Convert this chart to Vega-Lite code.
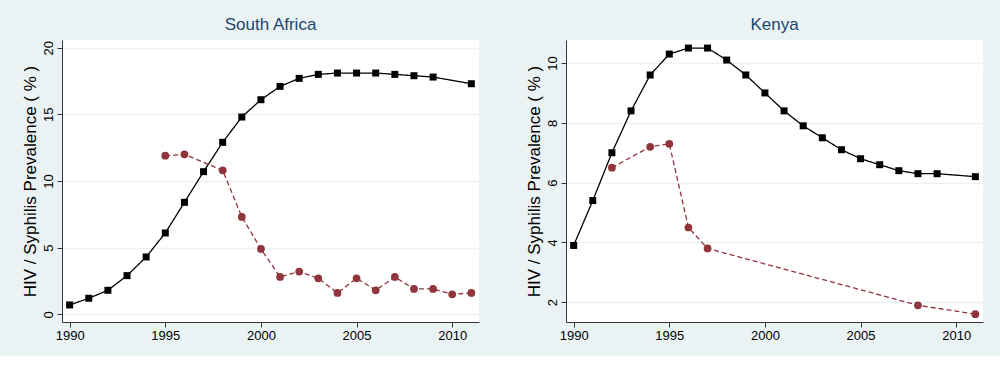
{
  "$schema": "https://vega.github.io/schema/vega-lite/v6.json",
  "background": "#eaf2f3",
  "padding": {"left": 21, "top": 16, "right": 20, "bottom": 14},
  "spacing": 46,
  "data": {
    "values": [
      {"country": "South Africa", "series": "HIV", "year": 1990, "value": 0.7},
      {"country": "South Africa", "series": "HIV", "year": 1991, "value": 1.2},
      {"country": "South Africa", "series": "HIV", "year": 1992, "value": 1.8},
      {"country": "South Africa", "series": "HIV", "year": 1993, "value": 2.9},
      {"country": "South Africa", "series": "HIV", "year": 1994, "value": 4.3},
      {"country": "South Africa", "series": "HIV", "year": 1995, "value": 6.1},
      {"country": "South Africa", "series": "HIV", "year": 1996, "value": 8.4},
      {"country": "South Africa", "series": "HIV", "year": 1997, "value": 10.7},
      {"country": "South Africa", "series": "HIV", "year": 1998, "value": 12.9},
      {"country": "South Africa", "series": "HIV", "year": 1999, "value": 14.8},
      {"country": "South Africa", "series": "HIV", "year": 2000, "value": 16.1},
      {"country": "South Africa", "series": "HIV", "year": 2001, "value": 17.1},
      {"country": "South Africa", "series": "HIV", "year": 2002, "value": 17.7},
      {"country": "South Africa", "series": "HIV", "year": 2003, "value": 18.0},
      {"country": "South Africa", "series": "HIV", "year": 2004, "value": 18.1},
      {"country": "South Africa", "series": "HIV", "year": 2005, "value": 18.1},
      {"country": "South Africa", "series": "HIV", "year": 2006, "value": 18.1},
      {"country": "South Africa", "series": "HIV", "year": 2007, "value": 18.0},
      {"country": "South Africa", "series": "HIV", "year": 2008, "value": 17.9},
      {"country": "South Africa", "series": "HIV", "year": 2009, "value": 17.8},
      {"country": "South Africa", "series": "HIV", "year": 2011, "value": 17.3},
      {"country": "South Africa", "series": "Syphilis", "year": 1995, "value": 11.9},
      {"country": "South Africa", "series": "Syphilis", "year": 1996, "value": 12.0},
      {"country": "South Africa", "series": "Syphilis", "year": 1998, "value": 10.8},
      {"country": "South Africa", "series": "Syphilis", "year": 1999, "value": 7.3},
      {"country": "South Africa", "series": "Syphilis", "year": 2000, "value": 4.9},
      {"country": "South Africa", "series": "Syphilis", "year": 2001, "value": 2.8},
      {"country": "South Africa", "series": "Syphilis", "year": 2002, "value": 3.2},
      {"country": "South Africa", "series": "Syphilis", "year": 2003, "value": 2.7},
      {"country": "South Africa", "series": "Syphilis", "year": 2004, "value": 1.6},
      {"country": "South Africa", "series": "Syphilis", "year": 2005, "value": 2.7},
      {"country": "South Africa", "series": "Syphilis", "year": 2006, "value": 1.8},
      {"country": "South Africa", "series": "Syphilis", "year": 2007, "value": 2.8},
      {"country": "South Africa", "series": "Syphilis", "year": 2008, "value": 1.9},
      {"country": "South Africa", "series": "Syphilis", "year": 2009, "value": 1.9},
      {"country": "South Africa", "series": "Syphilis", "year": 2010, "value": 1.5},
      {"country": "South Africa", "series": "Syphilis", "year": 2011, "value": 1.6},
      {"country": "Kenya", "series": "HIV", "year": 1990, "value": 3.9},
      {"country": "Kenya", "series": "HIV", "year": 1991, "value": 5.4},
      {"country": "Kenya", "series": "HIV", "year": 1992, "value": 7.0},
      {"country": "Kenya", "series": "HIV", "year": 1993, "value": 8.4},
      {"country": "Kenya", "series": "HIV", "year": 1994, "value": 9.6},
      {"country": "Kenya", "series": "HIV", "year": 1995, "value": 10.3},
      {"country": "Kenya", "series": "HIV", "year": 1996, "value": 10.5},
      {"country": "Kenya", "series": "HIV", "year": 1997, "value": 10.5},
      {"country": "Kenya", "series": "HIV", "year": 1998, "value": 10.1},
      {"country": "Kenya", "series": "HIV", "year": 1999, "value": 9.6},
      {"country": "Kenya", "series": "HIV", "year": 2000, "value": 9.0},
      {"country": "Kenya", "series": "HIV", "year": 2001, "value": 8.4},
      {"country": "Kenya", "series": "HIV", "year": 2002, "value": 7.9},
      {"country": "Kenya", "series": "HIV", "year": 2003, "value": 7.5},
      {"country": "Kenya", "series": "HIV", "year": 2004, "value": 7.1},
      {"country": "Kenya", "series": "HIV", "year": 2005, "value": 6.8},
      {"country": "Kenya", "series": "HIV", "year": 2006, "value": 6.6},
      {"country": "Kenya", "series": "HIV", "year": 2007, "value": 6.4},
      {"country": "Kenya", "series": "HIV", "year": 2008, "value": 6.3},
      {"country": "Kenya", "series": "HIV", "year": 2009, "value": 6.3},
      {"country": "Kenya", "series": "HIV", "year": 2011, "value": 6.2},
      {"country": "Kenya", "series": "Syphilis", "year": 1992, "value": 6.5},
      {"country": "Kenya", "series": "Syphilis", "year": 1994, "value": 7.2},
      {"country": "Kenya", "series": "Syphilis", "year": 1995, "value": 7.3},
      {"country": "Kenya", "series": "Syphilis", "year": 1996, "value": 4.5},
      {"country": "Kenya", "series": "Syphilis", "year": 1997, "value": 3.8},
      {"country": "Kenya", "series": "Syphilis", "year": 2008, "value": 1.9},
      {"country": "Kenya", "series": "Syphilis", "year": 2011, "value": 1.6}
    ]
  },
  "hconcat": [
    {
      "title": "South Africa",
      "width": 417,
      "height": 282,
      "transform": [{"filter": "datum.country === 'South Africa'"}],
      "encoding": {
        "x": {"field": "year", "type": "quantitative", "scale": {"domain": [1989.6, 2011.4], "nice": false, "zero": false}, "axis": {"values": [1990, 1995, 2000, 2005, 2010], "format": "d", "title": null, "grid": false}},
        "y": {"field": "value", "type": "quantitative", "scale": {"domain": [-0.58, 20.58], "nice": false, "zero": false}, "axis": {"values": [0, 5, 10, 15, 20], "title": "HIV / Syphilis Prevalence ( % )", "labelAngle": -90}},
        "color": {"field": "series", "type": "nominal", "scale": {"domain": ["HIV", "Syphilis"], "range": ["#000000", "#90353b"]}, "legend": null}
      },
      "layer": [
        {"mark": {"type": "line", "strokeWidth": 1.3}, "encoding": {"strokeDash": {"field": "series", "type": "nominal", "scale": {"domain": ["HIV", "Syphilis"], "range": [[1, 0], [5, 3]]}, "legend": null}}},
        {"mark": {"type": "point", "filled": true, "opacity": 1}, "encoding": {
          "shape": {"field": "series", "type": "nominal", "scale": {"domain": ["HIV", "Syphilis"], "range": ["square", "circle"]}, "legend": null},
          "size": {"field": "series", "type": "ordinal", "scale": {"domain": ["HIV", "Syphilis"], "range": [49, 60]}, "legend": null}
        }}
      ]
    },
    {
      "title": "Kenya",
      "width": 417,
      "height": 282,
      "transform": [{"filter": "datum.country === 'Kenya'"}],
      "encoding": {
        "x": {"field": "year", "type": "quantitative", "scale": {"domain": [1989.6, 2011.4], "nice": false, "zero": false}, "axis": {"values": [1990, 1995, 2000, 2005, 2010], "format": "d", "title": null, "grid": false}},
        "y": {"field": "value", "type": "quantitative", "scale": {"domain": [1.34, 10.77], "nice": false, "zero": false}, "axis": {"values": [2, 4, 6, 8, 10], "title": "HIV / Syphilis Prevalence ( % )", "labelAngle": -90}},
        "color": {"field": "series", "type": "nominal", "scale": {"domain": ["HIV", "Syphilis"], "range": ["#000000", "#90353b"]}, "legend": null}
      },
      "layer": [
        {"mark": {"type": "line", "strokeWidth": 1.3}, "encoding": {"strokeDash": {"field": "series", "type": "nominal", "scale": {"domain": ["HIV", "Syphilis"], "range": [[1, 0], [5, 3]]}, "legend": null}}},
        {"mark": {"type": "point", "filled": true, "opacity": 1}, "encoding": {
          "shape": {"field": "series", "type": "nominal", "scale": {"domain": ["HIV", "Syphilis"], "range": ["square", "circle"]}, "legend": null},
          "size": {"field": "series", "type": "ordinal", "scale": {"domain": ["HIV", "Syphilis"], "range": [49, 60]}, "legend": null}
        }}
      ]
    }
  ],
  "config": {
    "view": {"fill": "white", "stroke": null},
    "axis": {
      "labelFont": "Liberation Sans", "labelFontSize": 13, "labelColor": "#000000",
      "titleFont": "Liberation Sans", "titleFontSize": 17, "titleFontWeight": "normal", "titleColor": "#000000",
      "domainColor": "#333333", "tickColor": "#333333", "tickSize": 5, "labelPadding": 2, "titlePadding": 3,
      "gridColor": "#eaf2f3", "gridWidth": 1.5
    },
    "title": {"font": "Liberation Sans", "fontSize": 17, "fontWeight": "normal", "color": "#1a476f", "anchor": "middle", "offset": 6}
  }
}
